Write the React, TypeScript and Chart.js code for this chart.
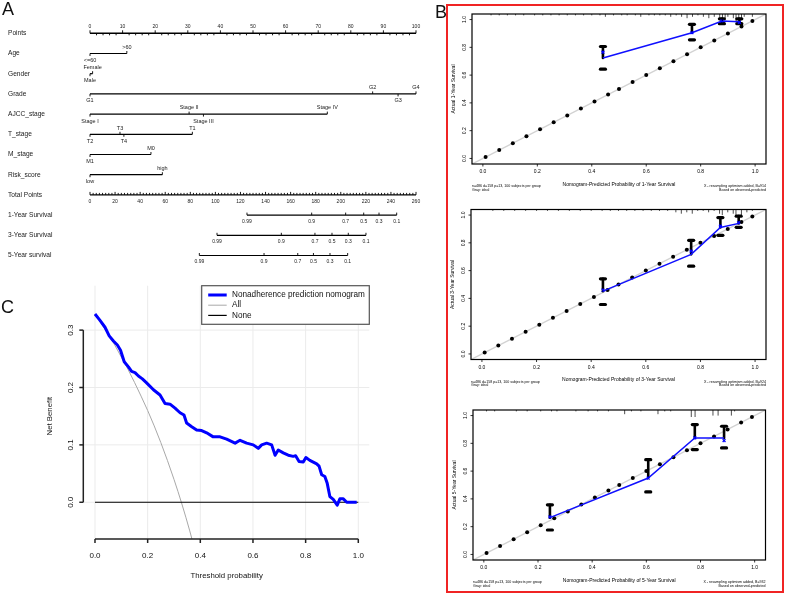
import React, { useEffect, useRef } from "react";
import { Chart, registerables } from "chart.js";

Chart.register(...registerables);

const FONT = '"Liberation Sans", Arial, Helvetica, sans-serif';

// ================= Panel A : nomogram =================
const nomoRowLabels = [
  "Points", "Age", "Gender", "Grade", "AJCC_stage", "T_stage", "M_stage",
  "Risk_score", "Total Points", "1-Year Survival", "3-Year Survival", "5-Year survival",
];
const pointsTicks = [0, 10, 20, 30, 40, 50, 60, 70, 80, 90, 100];
const totalPointsTicks = [0, 20, 40, 60, 80, 100, 120, 140, 160, 180, 200, 220, 240, 260];
const TOTAL_POINTS_MAX = 260;

const ageLevels = ["<=60", ">60"];
const agePoints = [0, 11.3];
const genderLevels = ["Male", "Female"];
const genderPoints = [0, 0.8];
const gradeLevels = ["G1", "G2", "G3", "G4"];
const gradePoints = [0, 86.7, 94.5, 100];
const ajccLevels = ["Stage I", "Stage II", "Stage III", "Stage IV"];
const ajccPoints = [0, 30.4, 34.8, 72.8];
const tStageLevels = ["T2", "T3", "T4", "T1"];
const tStagePoints = [0, 9.2, 10.4, 31.4];
const mStageLevels = ["M1", "M0"];
const mStagePoints = [0, 18.7];
const riskLevels = ["low", "high"];
const riskPoints = [0, 22.2];

const survivalTickLabels = ["0.99", "0.9", "0.7", "0.5", "0.3", "0.1"];
const surv1yTotal = [125.2, 176.8, 203.9, 218.3, 230.5, 244.6];
const surv3yTotal = [101.3, 152.6, 179.4, 193.0, 206.0, 220.1];
const surv5yTotal = [87.2, 138.8, 165.7, 178.2, 191.4, 205.5];

// ================= Panel C : decision curve =================
const dcaThreshold = [
  0, 0.019, 0.038, 0.054, 0.07, 0.085, 0.097, 0.111, 0.127, 0.139,
  0.152, 0.165, 0.18, 0.196, 0.222, 0.247, 0.266, 0.285, 0.304, 0.323,
  0.338, 0.348, 0.366, 0.386, 0.405, 0.424, 0.449, 0.475, 0.5, 0.532,
  0.551, 0.576, 0.601, 0.62, 0.633, 0.652, 0.671, 0.684, 0.696, 0.715,
  0.734, 0.753, 0.762, 0.775, 0.791, 0.801, 0.816, 0.842, 0.851, 0.861,
  0.873, 0.882, 0.892, 0.905, 0.92, 0.93, 0.943, 0.956, 0.994,
];
const dcaNomogram = [
  0.328, 0.317, 0.305, 0.29, 0.281, 0.274, 0.265, 0.245, 0.236, 0.228,
  0.226, 0.22, 0.215, 0.208, 0.196, 0.187, 0.172, 0.171, 0.164, 0.156,
  0.152, 0.138, 0.132, 0.126, 0.125, 0.121, 0.114, 0.114, 0.11, 0.103,
  0.108, 0.103, 0.1, 0.094, 0.1, 0.103, 0.1, 0.082, 0.091, 0.086,
  0.082, 0.08, 0.081, 0.071, 0.07, 0.078, 0.073, 0.067, 0.063, 0.048,
  0.045, 0.033, 0.01, 0.005, -0.005, 0.006, 0.006, 0, 0,
];
const dcaAllThreshold = [0, 0.025, 0.05, 0.075, 0.1, 0.125, 0.15, 0.175, 0.2, 0.225, 0.25, 0.275, 0.3, 0.315, 0.33, 0.345, 0.36, 0.37];
const dcaAll = [0.328, 0.311, 0.293, 0.274, 0.253, 0.232, 0.209, 0.185, 0.16, 0.133, 0.104, 0.073, 0.04, 0.019, -0.003, -0.026, -0.05, -0.067];
const dcaNoneThreshold = [0, 1];
const dcaNone = [0, 0];
const dcaXTicks = [0, 0.2, 0.4, 0.6, 0.8, 1.0];
const dcaYTicks = [0, 0.1, 0.2, 0.3];
const dcaLegendLabels = ["Nonadherence prediction nomogram", "All", "None"];

// ================= Panel B : calibration =================
const calTicks = [0, 0.2, 0.4, 0.6, 0.8, 1.0];
const idealDots = [0.01, 0.06, 0.11, 0.16, 0.21, 0.26, 0.31, 0.36, 0.41, 0.46, 0.5, 0.55, 0.6, 0.65, 0.7, 0.75, 0.8, 0.85, 0.9, 0.95, 0.99];
const idealLine = [-0.05, 1.05];

const cal1Pred = [0.441, 0.768, 0.878, 0.942];
const cal1Obs = [0.723, 0.905, 0.99, 0.985];
const cal1Corr = [0.765, 0.905, 0.99, 0.98];
const cal1Low = [0.643, 0.854, 0.97, 0.97];
const cal1High = [0.806, 0.966, 1.005, 1.005];
const cal1RugX = [0.03, 0.06, 0.09, 0.12, 0.15, 0.19, 0.22, 0.25, 0.28, 0.31, 0.34, 0.37, 0.4, 0.43, 0.45, 0.48, 0.51, 0.53, 0.56, 0.58, 0.61, 0.63, 0.65, 0.67, 0.69, 0.71, 0.73, 0.75, 0.77, 0.79, 0.81, 0.83, 0.85, 0.87, 0.88, 0.89, 0.9, 0.92, 0.93, 0.94, 0.95, 0.96, 0.99];
const cal1RugN = [1, 1, 1, 1, 1, 1, 1, 1, 1, 1, 1, 1, 1, 1, 2, 1, 1, 1, 1, 2, 1, 1, 1, 1, 2, 1, 2, 3, 2, 1, 2, 3, 2, 4, 5, 3, 2, 3, 5, 4, 3, 2, 2];

const cal2Pred = [0.443, 0.766, 0.873, 0.94];
const cal2Obs = [0.452, 0.717, 0.91, 0.94];
const cal2Corr = [0.46, 0.74, 0.92, 0.945];
const cal2Low = [0.356, 0.632, 0.854, 0.912];
const cal2High = [0.541, 0.818, 0.982, 0.992];
const cal2RugX = [0.04, 0.08, 0.12, 0.16, 0.2, 0.24, 0.28, 0.32, 0.36, 0.4, 0.44, 0.47, 0.5, 0.53, 0.56, 0.59, 0.62, 0.65, 0.68, 0.71, 0.73, 0.75, 0.77, 0.79, 0.81, 0.83, 0.85, 0.87, 0.88, 0.9, 0.92, 0.93, 0.95, 0.97, 0.99];
const cal2RugN = [1, 1, 1, 1, 1, 1, 1, 1, 1, 1, 1, 1, 1, 1, 1, 1, 1, 1, 1, 2, 3, 2, 3, 1, 1, 2, 1, 3, 4, 2, 3, 5, 4, 2, 1];

const cal3Pred = [0.244, 0.607, 0.779, 0.887];
const cal3Obs = [0.265, 0.55, 0.838, 0.838];
const cal3Corr = [0.27, 0.55, 0.84, 0.82];
const cal3Low = [0.176, 0.45, 0.755, 0.767];
const cal3High = [0.357, 0.682, 0.935, 0.923];
const cal3RugX = [0.01, 0.04, 0.12, 0.16, 0.21, 0.25, 0.27, 0.34, 0.385, 0.42, 0.46, 0.52, 0.545, 0.58, 0.643, 0.668, 0.69, 0.766, 0.78, 0.846, 0.865, 0.914, 0.926];
const cal3RugN = [1, 1, 1, 1, 1, 1, 1, 1, 1, 1, 1, 3, 1, 1, 3, 1, 1, 5, 5, 4, 4, 4, 1];

// ---------------------------------------------------------------
const toPointsScale = (tp: number) => (tp * 100) / TOTAL_POINTS_MAX;

const varRows = [
  { row: 1, labels: ageLevels, pts: agePoints },
  { row: 2, labels: genderLevels, pts: genderPoints },
  { row: 3, labels: gradeLevels, pts: gradePoints },
  { row: 4, labels: ajccLevels, pts: ajccPoints },
  { row: 5, labels: tStageLevels, pts: tStagePoints },
  { row: 6, labels: mStageLevels, pts: mStagePoints },
  { row: 7, labels: riskLevels, pts: riskPoints },
];
const survRows = [
  { row: 9, total: surv1yTotal },
  { row: 10, total: surv3yTotal },
  { row: 11, total: surv5yTotal },
];

const baseOptions = (pad: any, xr: number[], yr: number[], yReverse = false): any => ({
  responsive: false,
  animation: false,
  devicePixelRatio: 1,
  events: [],
  layout: { padding: pad },
  plugins: { legend: { display: false }, tooltip: { enabled: false } },
  scales: {
    x: { type: "linear", min: xr[0], max: xr[1], display: false },
    y: { type: "linear", min: yr[0], max: yr[1], display: false, reverse: yReverse },
  },
});

function Nomogram() {
  const ref = useRef<HTMLCanvasElement>(null);
  useEffect(() => {
    const seg = (a: number, b: number, row: number, w: number) => ({
      data: [{ x: a, y: row }, { x: b, y: row }],
      showLine: true, borderColor: "#000", borderWidth: w, pointRadius: 0, clip: false,
    });
    const datasets: any[] = [seg(0, 100, 0, 1.4)];
    varRows.forEach((r) => datasets.push(seg(Math.min(...r.pts), Math.max(...r.pts), r.row, 1.2)));
    datasets.push(seg(0, 100, 8, 1.4));
    survRows.forEach((r) =>
      datasets.push(seg(toPointsScale(Math.min(...r.total)), toPointsScale(Math.max(...r.total)), r.row, 1.2))
    );
    const plugin = {
      id: "nomo",
      afterDatasetsDraw(chart: any) {
        const { ctx } = chart;
        const xs = chart.scales.x, ys = chart.scales.y;
        const X = (v: number) => xs.getPixelForValue(v);
        const Y = (v: number) => ys.getPixelForValue(v);
        ctx.save();
        ctx.fillStyle = "#1a1a1a";
        ctx.strokeStyle = "#000";
        ctx.lineWidth = 0.9;
        ctx.textBaseline = "middle";
        ctx.font = `6.6px ${FONT}`;
        ctx.textAlign = "left";
        nomoRowLabels.forEach((t, i) => ctx.fillText(t, 8, Y(i)));
        // Points axis
        const y0 = Y(0);
        for (let v = 0; v <= 100; v += 2) {
          ctx.beginPath();
          if (v % 10 === 0) { ctx.moveTo(X(v), y0); ctx.lineTo(X(v), y0 - 3); }
          else { ctx.moveTo(X(v), y0); ctx.lineTo(X(v), y0 + 2); }
          ctx.stroke();
        }
        ctx.textAlign = "center";
        ctx.font = `5px ${FONT}`;
        pointsTicks.forEach((v) => ctx.fillText(String(v), X(v), y0 - 6.5));
        // variables
        ctx.font = `5.5px ${FONT}`;
        varRows.forEach((r) => {
          const yy = Y(r.row);
          const order = r.pts.map((_, i) => i).sort((a, b) => r.pts[a] - r.pts[b]);
          order.forEach((idx, k) => {
            const xx = X(r.pts[idx]);
            const above = k % 2 === 1;
            ctx.beginPath();
            ctx.moveTo(xx, yy);
            ctx.lineTo(xx, above ? yy - 2.5 : yy + 2.5);
            ctx.stroke();
            ctx.fillText(r.labels[idx], xx, above ? yy - 6.3 : yy + 7);
          });
        });
        // Total points axis
        const y8 = Y(8);
        for (let v = 0; v <= TOTAL_POINTS_MAX; v += 2.5) {
          const xx = X(toPointsScale(v));
          ctx.beginPath();
          ctx.moveTo(xx, y8);
          ctx.lineTo(xx, y8 - (v % 20 === 0 ? 3 : 2));
          ctx.stroke();
        }
        ctx.font = `5px ${FONT}`;
        totalPointsTicks.forEach((v) => ctx.fillText(String(v), X(toPointsScale(v)), y8 + 7));
        // survival axes
        survRows.forEach((r) => {
          const yy = Y(r.row);
          r.total.forEach((tp, i) => {
            const xx = X(toPointsScale(tp));
            ctx.beginPath();
            ctx.moveTo(xx, yy - 2.5);
            ctx.lineTo(xx, yy);
            ctx.stroke();
            ctx.fillText(survivalTickLabels[i], xx, yy + 6.5);
          });
        });
        ctx.restore();
      },
    };
    const chart = new Chart(ref.current!, {
      type: "scatter",
      data: { datasets },
      options: baseOptions({ left: 90, right: 24, top: 33.3, bottom: 19.5 }, [0, 100], [0, 11], true),
      plugins: [plugin],
    } as any);
    return () => chart.destroy();
  }, []);
  return <canvas ref={ref} width={440} height={275} style={{ position: "absolute", left: 0, top: 0 }} />;
}

function DecisionCurve() {
  const ref = useRef<HTMLCanvasElement>(null);
  useEffect(() => {
    const plugin = {
      id: "dca",
      beforeDatasetsDraw(chart: any) {
        const { ctx, chartArea: a } = chart;
        const xs = chart.scales.x, ys = chart.scales.y;
        ctx.save();
        ctx.strokeStyle = "#ebebeb";
        ctx.lineWidth = 1;
        dcaXTicks.forEach((v) => {
          const X = xs.getPixelForValue(v);
          ctx.beginPath(); ctx.moveTo(X, a.top); ctx.lineTo(X, a.bottom); ctx.stroke();
        });
        dcaYTicks.forEach((v) => {
          const Y = ys.getPixelForValue(v);
          ctx.beginPath(); ctx.moveTo(a.left, Y); ctx.lineTo(a.right, Y); ctx.stroke();
        });
        ctx.restore();
      },
      afterDatasetsDraw(chart: any) {
        const { ctx, chartArea: a } = chart;
        const xs = chart.scales.x, ys = chart.scales.y;
        ctx.save();
        ctx.strokeStyle = "#222";
        ctx.fillStyle = "#111";
        ctx.lineWidth = 1.5;
        // y axis
        ctx.beginPath();
        ctx.moveTo(a.left, ys.getPixelForValue(0));
        ctx.lineTo(a.left, ys.getPixelForValue(0.3));
        ctx.stroke();
        ctx.font = `8px ${FONT}`;
        ctx.textAlign = "center";
        ctx.textBaseline = "middle";
        dcaYTicks.forEach((v) => {
          const Y = ys.getPixelForValue(v);
          ctx.beginPath(); ctx.moveTo(a.left, Y); ctx.lineTo(a.left - 4, Y); ctx.stroke();
          ctx.save();
          ctx.translate(a.left - 13, Y);
          ctx.rotate(-Math.PI / 2);
          ctx.fillText(v.toFixed(1), 0, 0);
          ctx.restore();
        });
        // x axis
        ctx.beginPath();
        ctx.moveTo(xs.getPixelForValue(0), a.bottom);
        ctx.lineTo(xs.getPixelForValue(1), a.bottom);
        ctx.stroke();
        dcaXTicks.forEach((v) => {
          const X = xs.getPixelForValue(v);
          ctx.beginPath(); ctx.moveTo(X, a.bottom); ctx.lineTo(X, a.bottom + 4); ctx.stroke();
          ctx.fillText(v.toFixed(1), X, a.bottom + 17);
        });
        ctx.font = `7.8px ${FONT}`;
        ctx.fillText("Threshold probability", (xs.getPixelForValue(0) + xs.getPixelForValue(1)) / 2, a.bottom + 37);
        ctx.save();
        ctx.translate(50, (ys.getPixelForValue(0) + ys.getPixelForValue(0.3)) / 2);
        ctx.rotate(-Math.PI / 2);
        ctx.fillText("Net Benefit", 0, 0);
        ctx.restore();
        // legend
        const lw = 167.6, lh = 38.6;
        const lx = a.right - lw, ly = a.top;
        ctx.fillStyle = "#fff";
        ctx.fillRect(lx, ly, lw, lh);
        ctx.strokeStyle = "#555";
        ctx.lineWidth = 1.2;
        ctx.strokeRect(lx, ly, lw, lh);
        const colors = ["#0000ff", "#a8a8a8", "#000"];
        const widths = [3, 1, 1.2];
        ctx.font = `8.2px ${FONT}`;
        ctx.textAlign = "left";
        ctx.fillStyle = "#111";
        dcaLegendLabels.forEach((t, i) => {
          const yy = ly + 9.3 + i * 10.2;
          ctx.strokeStyle = colors[i];
          ctx.lineWidth = widths[i];
          ctx.beginPath(); ctx.moveTo(lx + 6.5, yy); ctx.lineTo(lx + 25, yy); ctx.stroke();
          ctx.fillText(t, lx + 30.3, yy);
        });
        ctx.restore();
      },
    };
    const chart = new Chart(ref.current!, {
      type: "scatter",
      data: {
        datasets: [
          {
            data: dcaThreshold.map((t, i) => ({ x: t, y: dcaNomogram[i] })),
            showLine: true, borderColor: "#0000ff", borderWidth: 3, pointRadius: 0,
            borderJoinStyle: "round", clip: 0,
          },
          {
            data: dcaNoneThreshold.map((t, i) => ({ x: t, y: dcaNone[i] })),
            showLine: true, borderColor: "#000", borderWidth: 1.2, pointRadius: 0, clip: 0,
          },
          {
            data: dcaAllThreshold.map((t, i) => ({ x: t, y: dcaAll[i] })),
            showLine: true, borderColor: "#a8a8a8", borderWidth: 1, pointRadius: 0, clip: 0,
          },
        ],
      },
      options: baseOptions({ left: 83.3, right: 70.7, top: 9.7, bottom: 54 }, [-0.0444, 1.0418], [-0.064, 0.3774]),
      plugins: [plugin],
    } as any);
    return () => chart.destroy();
  }, []);
  return <canvas ref={ref} width={440} height={317} style={{ position: "absolute", left: 0, top: 276 }} />;
}

type CalProps = {
  left: number; top: number; width: number; height: number;
  pad: { left: number; right: number; top: number; bottom: number };
  year: number; B: number;
  pred: number[]; obs: number[]; corr: number[]; low: number[]; high: number[];
  rugX: number[]; rugN: number[];
};

function CalibrationPlot(p: CalProps) {
  const ref = useRef<HTMLCanvasElement>(null);
  useEffect(() => {
    const plugin = {
      id: "calib" + p.year,
      afterDatasetDraw(chart: any, args: any) {
        if (args.index !== 2) return;
        const { ctx } = chart;
        const xs = chart.scales.x, ys = chart.scales.y;
        ctx.save();
        ctx.strokeStyle = "#000";
        ctx.lineCap = "round";
        p.pred.forEach((pv, i) => {
          const X = xs.getPixelForValue(pv);
          const yh = ys.getPixelForValue(p.high[i]);
          const yl = ys.getPixelForValue(p.low[i]);
          const ym = ys.getPixelForValue(p.obs[i]);
          ctx.lineWidth = 2.6;
          ctx.beginPath(); ctx.moveTo(X, yh); ctx.lineTo(X, ym); ctx.stroke();
          ctx.lineWidth = 3.2;
          [yh, yl].forEach((yy) => {
            ctx.beginPath(); ctx.moveTo(X - 2.5, yy); ctx.lineTo(X + 2.5, yy); ctx.stroke();
          });
        });
        ctx.restore();
      },
      afterDraw(chart: any) {
        const { ctx, chartArea: a } = chart;
        const xs = chart.scales.x, ys = chart.scales.y;
        ctx.save();
        ctx.strokeStyle = "#000";
        ctx.fillStyle = "#000";
        ctx.lineWidth = 0.7;
        p.rugX.forEach((v, i) => {
          const X = xs.getPixelForValue(v);
          ctx.beginPath(); ctx.moveTo(X, a.top); ctx.lineTo(X, a.top + p.rugN[i] * 1.4); ctx.stroke();
        });
        ctx.lineWidth = 1.2;
        ctx.strokeRect(a.left, a.top, a.right - a.left, a.bottom - a.top);
        ctx.lineWidth = 0.8;
        ctx.font = `5px ${FONT}`;
        ctx.textAlign = "center";
        ctx.textBaseline = "middle";
        calTicks.forEach((v) => {
          const X = xs.getPixelForValue(v);
          ctx.beginPath(); ctx.moveTo(X, a.bottom); ctx.lineTo(X, a.bottom + 2.5); ctx.stroke();
          ctx.fillText(v.toFixed(1), X, a.bottom + 8);
          const Y = ys.getPixelForValue(v);
          ctx.beginPath(); ctx.moveTo(a.left, Y); ctx.lineTo(a.left - 2.5, Y); ctx.stroke();
          ctx.save();
          ctx.translate(a.left - 7.5, Y);
          ctx.rotate(-Math.PI / 2);
          ctx.fillText(v.toFixed(1), 0, 0);
          ctx.restore();
        });
        ctx.fillText(
          `Nomogram-Predicted Probability of ${p.year}-Year Survival`,
          (xs.getPixelForValue(0) + xs.getPixelForValue(1)) / 2,
          a.bottom + 20.5
        );
        ctx.save();
        ctx.translate(a.left - 18, (a.top + a.bottom) / 2);
        ctx.rotate(-Math.PI / 2);
        ctx.fillText(`Actual ${p.year}-Year Survival`, 0, 0);
        ctx.restore();
        ctx.font = `3.6px ${FONT}`;
        ctx.textAlign = "left";
        ctx.fillText("n=486 d=158 p=13, 100 subjects per group", a.left, a.bottom + 22.3);
        ctx.fillText("Gray: ideal", a.left, a.bottom + 25.6);
        ctx.textAlign = "right";
        ctx.fillText(`X - resampling optimism added, B=${p.B}`, a.right, a.bottom + 22.3);
        ctx.fillText("Based on observed-predicted", a.right, a.bottom + 25.6);
        ctx.restore();
      },
    };
    const chart = new Chart(ref.current!, {
      type: "scatter",
      data: {
        datasets: [
          {
            data: p.pred.map((x, i) => ({ x, y: p.corr[i] })),
            pointStyle: "crossRot", pointRadius: 2, borderColor: "#0000ff", borderWidth: 1.3,
            backgroundColor: "#0000ff", showLine: false,
          },
          {
            data: p.pred.map((x, i) => ({ x, y: p.obs[i] })),
            showLine: true, borderColor: "#1010ff", borderWidth: 1.5, pointRadius: 0,
          },
          {
            data: idealDots.map((v) => ({ x: v, y: v })),
            pointRadius: 2, backgroundColor: "#000", borderWidth: 0, showLine: false,
          },
          {
            data: idealLine.map((v) => ({ x: v, y: v })),
            showLine: true, borderColor: "#d2d2d2", borderWidth: 1.4, pointRadius: 0, clip: 0,
          },
        ],
      },
      options: baseOptions(p.pad, [-0.04, 1.04], [-0.04, 1.04]),
      plugins: [plugin],
    } as any);
    return () => chart.destroy();
  }, []);
  return (
    <canvas
      ref={ref}
      width={p.width}
      height={p.height}
      style={{ position: "absolute", left: p.left, top: p.top }}
    />
  );
}

const letterStyle = (left: number, top: number): React.CSSProperties => ({
  position: "absolute", left, top, fontFamily: FONT, fontSize: 18, lineHeight: "18px",
  color: "#111", fontWeight: 300,
});

export default function App() {
  return (
    <div style={{ position: "absolute", left: 0, top: 0, width: 787, height: 593, background: "#fff", overflow: "hidden" }}>
      <Nomogram />
      <DecisionCurve />
      <CalibrationPlot
        left={449} top={6} width={332} height={192}
        pad={{ left: 23, right: 15, top: 8, bottom: 34 }}
        year={1} B={914}
        pred={cal1Pred} obs={cal1Obs} corr={cal1Corr} low={cal1Low} high={cal1High}
        rugX={cal1RugX} rugN={cal1RugN}
      />
      <CalibrationPlot
        left={449} top={200} width={332} height={194}
        pad={{ left: 22, right: 15, top: 9.5, bottom: 34.5 }}
        year={3} B={924}
        pred={cal2Pred} obs={cal2Obs} corr={cal2Corr} low={cal2Low} high={cal2High}
        rugX={cal2RugX} rugN={cal2RugN}
      />
      <CalibrationPlot
        left={449} top={398} width={332} height={192}
        pad={{ left: 24, right: 15.5, top: 12, bottom: 30 }}
        year={5} B={932}
        pred={cal3Pred} obs={cal3Obs} corr={cal3Corr} low={cal3Low} high={cal3High}
        rugX={cal3RugX} rugN={cal3RugN}
      />
      <div style={letterStyle(2, 0)}>A</div>
      <div style={letterStyle(435, 3)}>B</div>
      <div style={letterStyle(1, 297.5)}>C</div>
      <div
        style={{
          position: "absolute", left: 446, top: 4, width: 334, height: 585,
          border: "2px solid #f02424", pointerEvents: "none",
        }}
      />
    </div>
  );
}
